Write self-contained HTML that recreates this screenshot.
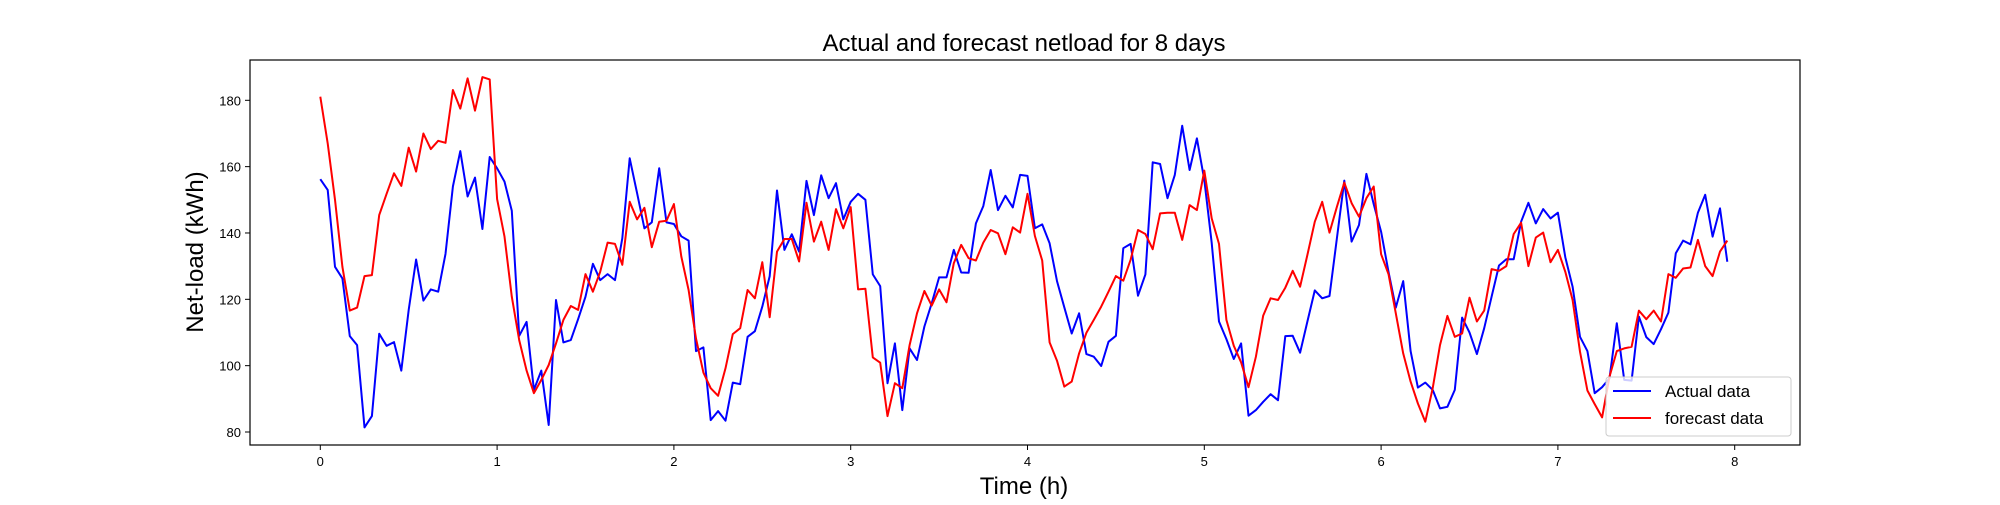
<!DOCTYPE html>
<html><head><meta charset="utf-8"><style>
body{margin:0;background:#fff;}
svg text{font-family:"Liberation Sans","DejaVu Sans",sans-serif;}
</style></head><body>
<svg id="chart" width="2000" height="500" viewBox="0 0 2000 500" xmlns="http://www.w3.org/2000/svg">
<rect width="2000" height="500" fill="#fff"/>
<text x="1024" y="51" font-size="24" text-anchor="middle">Actual and forecast netload for 8 days</text>
<text x="1024" y="494" font-size="24" text-anchor="middle">Time (h)</text>
<text x="0" y="0" font-size="24" text-anchor="middle" transform="translate(203,252) rotate(-90)">Net-load (kWh)</text>
<g id="ticks"></g>
<g id="series"></g>
<rect x="250" y="60" width="1550" height="385" fill="none" stroke="#000" stroke-width="1.2"/>
<g>
<rect x="1606" y="377" width="185" height="59" rx="3" fill="#fff" fill-opacity="0.8" stroke="#ccc"/>
<line x1="1613" y1="391" x2="1651" y2="391" stroke="#0000ff" stroke-width="2"/>
<text x="1665" y="397" font-size="17">Actual data</text>
<line x1="1613" y1="418" x2="1651" y2="418" stroke="#ff0000" stroke-width="2"/>
<text x="1665" y="424" font-size="17">forecast data</text>
</g>
</svg>
<script>
const xTicks=[0,1,2,3,4,5,6,7,8];
const yTicks=[80,100,120,140,160,180];
const actual=[156.2,153,129.8,126.3,108.9,106.2,81.4,84.8,109.6,106,107.1,98.5,116.8,132,119.6,123,122.3,133.7,154,164.7,151,156.7,141.2,162.9,
159.5,155.5,146.7,109,113.2,92.7,98.5,82.1,119.8,107,107.7,114,120.8,130.7,125.8,127.6,125.8,138.4,162.5,152,141.4,143.2,159.5,143.2,
142.7,139,137.7,104.4,105.5,83.6,86.3,83.4,94.9,94.4,108.7,110.4,117.8,127,152.8,134.9,139.6,134.4,155.7,145.4,157.4,150.5,155,144.1,
149.4,151.8,150,127.5,124,94.7,106.7,86.6,105.2,101.7,111.8,118.8,126.6,126.6,134.9,128.1,128,142.9,148.1,159,146.9,151.2,147.7,157.5,
157.2,141.4,142.6,136.9,125.5,117.6,109.7,115.8,103.5,102.7,99.9,107.2,109,135.4,136.7,121.1,127.5,161.3,160.8,150.5,157.5,172.3,159,168.5,
156,137,113.3,108,102,106.7,84.9,86.6,89.1,91.4,89.6,108.9,109,103.9,113.3,122.7,120.3,121,138.4,155.8,137.4,142.4,157.8,148.7,140.4,128.3,
117.5,125.5,104.4,93.4,94.9,92.7,87.1,87.6,92.7,114.5,110,103.5,111.3,120.8,130.2,132.1,132.1,143.4,149.1,142.9,147.2,144.4,146.1,132.7,
123.8,108.7,104.4,91.7,93.5,96.2,112.8,95.7,95.5,114.8,108.6,106.5,111,116,133.9,137.7,136.6,146.1,151.5,138.9,147.4,131.3];
const forecast=[181.1,167,150,129.8,116.6,117.5,127,127.3,145.4,151.8,158,154.2,165.7,158.5,170,165.3,167.8,167.2,183.1,177.5,186.6,176.9,187,186.3,
150.2,138.9,120.8,107.7,98.5,91.7,95.7,100.2,106.7,113.8,118,116.8,127.6,122.3,128.3,137.1,136.7,130.4,149.4,144.1,147.6,135.7,143.4,143.7,
148.7,132.9,122.8,108.2,97.9,93.2,90.9,99.2,109.5,111.3,122.8,120.3,131.2,114.6,134.4,138.2,138.2,131.4,149.1,137.4,143.4,134.9,147.2,141.4,
147.8,123,123.2,102.5,100.9,84.8,94.7,93.2,106.2,115.8,122.5,118.1,123,119.1,130.9,136.4,132.4,131.7,137.1,140.9,139.9,133.6,141.7,140.1,
151.8,139.1,131.7,107,101.5,93.7,95.2,103.7,109.9,113.8,117.8,122.3,127,125.6,131.9,140.9,139.7,135.1,145.9,146.1,146.1,137.9,148.4,146.9,
158.8,144.4,136.7,113.8,106,101,93.5,102.7,115.1,120.3,119.8,123.5,128.6,123.8,133.4,143.4,149.4,140.1,147.9,155.2,149,144.9,150.5,154,
133.6,127.6,115.8,103.7,95.2,88.6,83.1,93.2,106.2,115,108.7,109.7,120.5,113.3,116.6,129.1,128.6,130,139.7,143.1,130,138.6,140.1,131.2,
134.9,128.3,119.8,104.2,92.5,88.4,84.4,96.7,104.4,105.2,105.7,116.6,114,116.6,113.3,127.6,126.5,129.3,129.6,137.9,130,127,134.4,137.7];
const NS='http://www.w3.org/2000/svg';
function xs(t){return 320.3+t*176.8;}
function ys(v){return 432-(v-80)*3.317;}
const tg=document.getElementById('ticks');
xTicks.forEach(t=>{
  const l=document.createElementNS(NS,'line');
  
  
  l.setAttribute('x1',xs(t));l.setAttribute('x2',xs(t));l.setAttribute('y1',445);l.setAttribute('y2',450);l.setAttribute('stroke','#000');
  tg.appendChild(l);
  const tx=document.createElementNS(NS,'text');
  
  
  tx.setAttribute('x',xs(t));tx.setAttribute('y',466);tx.setAttribute('font-size','13');tx.setAttribute('text-anchor','middle');
  tx.textContent=t;tg.appendChild(tx);
});
yTicks.forEach(v=>{
  const l=document.createElementNS(NS,'line');
  
  
  l.setAttribute('x1',245);l.setAttribute('x2',250);l.setAttribute('y1',ys(v));l.setAttribute('y2',ys(v));l.setAttribute('stroke','#000');
  tg.appendChild(l);
  const tx=document.createElementNS(NS,'text');
  
  
  tx.setAttribute('x',241);tx.setAttribute('y',ys(v)+5);tx.setAttribute('font-size','13');tx.setAttribute('text-anchor','end');
  tx.textContent=v;tg.appendChild(tx);
});
const sg=document.getElementById('series');
function line(arr,color,name){
  const p=document.createElementNS(NS,'polyline');
  
  
  p.setAttribute('points',arr.map((v,i)=>xs(i/24).toFixed(1)+','+ys(v).toFixed(1)).join(' '));
  p.setAttribute('fill','none');p.setAttribute('stroke',color);p.setAttribute('stroke-width','2');p.setAttribute('stroke-linejoin','round');
  sg.appendChild(p);
}
line(actual,'#0000ff','actual-data-line');
line(forecast,'#ff0000','forecast-data-line');
</script>
</body></html>
